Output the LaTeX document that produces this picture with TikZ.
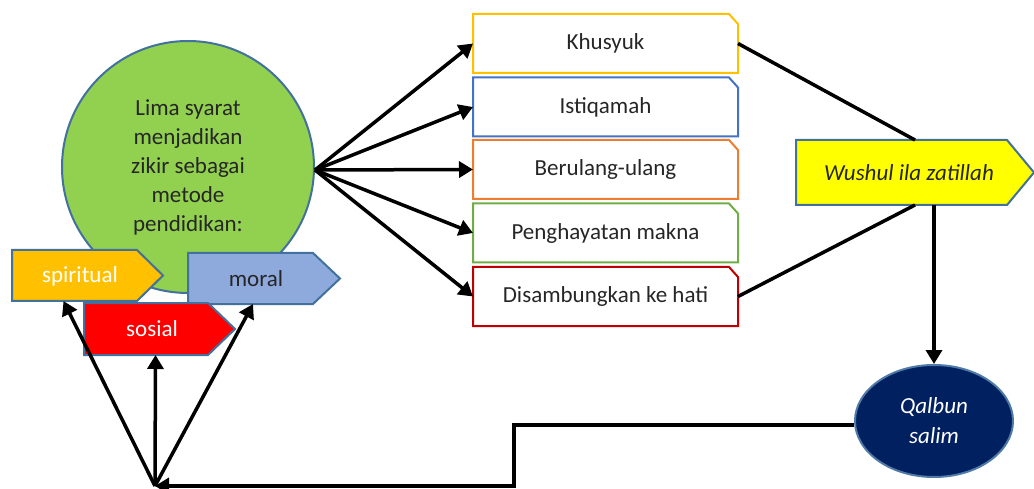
\documentclass[tikz,border=0pt]{standalone}
\usepackage{fontspec}
\setmainfont{Carlito}
\usetikzlibrary{arrows.meta,calc,shapes.geometric}
\definecolor{edgeblue}{HTML}{41719C}
\definecolor{cgreen}{HTML}{92D050}
\definecolor{sgold}{HTML}{FFC000}
\definecolor{mblue}{HTML}{8EA9DB}
\definecolor{sred}{HTML}{FF0000}
\definecolor{wyellow}{HTML}{FFFF00}
\definecolor{navy}{HTML}{002060}
\definecolor{qedge}{HTML}{4F7AA8}
\definecolor{bgold}{HTML}{FFC000}
\definecolor{bblue}{HTML}{4472C4}
\definecolor{borange}{HTML}{ED7D31}
\definecolor{bgreen}{HTML}{70AD47}
\definecolor{bred}{HTML}{C00000}
\definecolor{txt}{HTML}{262626}
\newcommand\pentpath[3]{\filldraw[edge, fill=#2] (#1.north west) -- ([xshift=-#3]#1.north east) -- (#1.east) -- ([xshift=-#3]#1.south east) -- (#1.south west) -- cycle;}
\newcommand\cutframe[2]{\draw[line width=2pt, draw=#2] (#1.south west) -- (#1.north west) -- ([xshift=-9pt]#1.north east) -- ([yshift=-10pt]#1.north east) -- (#1.south east) -- cycle;}
\begin{document}
\begin{tikzpicture}[x=1pt,y=-1pt,
  every node/.style={font=\fontsize{23}{29}\selectfont, text=txt},
  arr/.style={line width=3.5pt, -{Triangle[length=14pt,width=16pt]}},
  ln/.style={line width=3.5pt},
  holder/.style={draw=none, inner sep=0pt, outer sep=0pt},
  boxn/.style={holder, minimum width=265pt, minimum height=59pt},
  edge/.style={draw=edgeblue, line width=2pt}]
\useasboundingbox (0,0) rectangle (1034,489);

% central circle
\node[circle, draw=edgeblue, line width=2pt, fill=cgreen, minimum size=252pt, inner sep=0pt, align=center] (circ) at (188,167)
  {Lima syarat\\menjadikan\\zikir sebagai\\metode\\pendidikan:};

% three tags
\node[holder, minimum width=151pt, minimum height=51pt] (spir) at (87.5,275.5) {};
\pentpath{spir}{sgold}{26pt}
\node[text=white] at (80,276) {spiritual};

\node[holder, minimum width=152pt, minimum height=51pt] (mor) at (264,278.5) {};
\pentpath{mor}{mblue}{27pt}
\node at (256,279) {moral};

\node[holder, minimum width=151pt, minimum height=52pt] (sos) at (159.5,329) {};
\pentpath{sos}{sred}{27pt}
\node[text=white] at (152,329) {sosial};

% five conditions
\node[boxn] (khu) at (605.5,43.5) {Khusyuk};
\cutframe{khu}{bgold}
\node[boxn] (ist) at (605.5,107) {Istiqamah};
\cutframe{ist}{bblue}
\node[boxn] (ber) at (605.5,169.5) {Berulang-ulang};
\cutframe{ber}{borange}
\node[boxn] (pen) at (605.5,233) {Penghayatan makna};
\cutframe{pen}{bgreen}
\node[boxn] (dis) at (605.5,296.5) {Disambungkan ke hati};
\cutframe{dis}{bred}

\coordinate (hub) at ([yshift=-3pt]circ.east);
\foreach \b in {khu,ist,ber,pen,dis}
  \draw[arr] (hub) -- (\b.west);

% goal
\node[holder, minimum width=238pt, minimum height=65pt] (wus) at (915,172.5) {};
\pentpath{wus}{wyellow}{27pt}
\node at (909,173) {\itshape Wushul ila zatillah};
\draw[ln] (khu.east) -- (wus.north);
\draw[ln] (dis.east) -- (wus.south);

\node[ellipse, draw=qedge, line width=2pt, fill=navy, minimum width=158pt, minimum height=112pt, inner sep=0pt, align=center, text=white, font=\fontsize{23}{30}\selectfont\itshape] (qal) at (934,421) {Qalbun\\salim};
\draw[arr] (wus.south -| qal.north) -- (qal.north);

% feedback
\coordinate (fk) at (514,486);
\coordinate (fb) at (155,486);
\draw[arr] ([yshift=-4pt]qal.west) -| (fk) -- (fb);
\draw[arr] (fb) -- ([xshift=-24pt]spir.south);
\draw[arr] (fb) -- ([xshift=-4pt]sos.south);
\draw[arr] (fb) -- ([xshift=-11pt]mor.south);
\end{tikzpicture}
\end{document}
